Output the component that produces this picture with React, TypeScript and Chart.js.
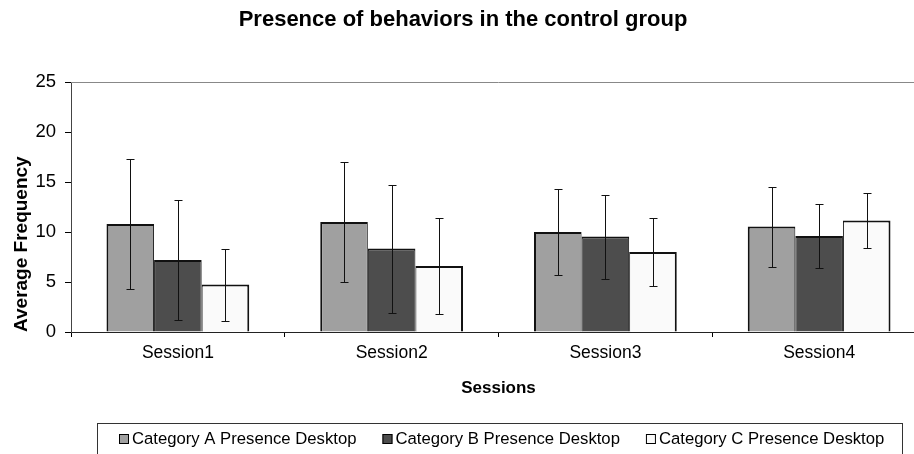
import React, { useEffect, useRef } from "react";
import { Chart, registerables } from "chart.js";

Chart.register(...registerables);

const chartTitle = "Presence of behaviors in the control group";
const xTitle = "Sessions";
const yTitle = "Average Frequency";
const sessions = ["Session1", "Session2", "Session3", "Session4"];
const seriesLabels = [
  "Category A Presence Desktop",
  "Category B Presence Desktop",
  "Category C Presence Desktop",
];
const catA = [10.8, 11.0, 10.0, 10.55];
const catB = [7.2, 8.35, 9.55, 9.6];
const catC = [4.75, 6.6, 8.0, 11.15];
const errA = [6.5, 6.0, 4.3, 4.0];
const errB = [6.0, 6.4, 4.2, 3.2];
const errC = [3.6, 4.8, 3.4, 2.8];
const yMin = 0;
const yMax = 25;
const yStep = 5;

const FONT = "'Liberation Sans', Arial, Helvetica, sans-serif";
const colors = ["#a0a0a0", "#4d4d4d", "#fafafa"];

const errorBarsPlugin = {
  id: "errorBars",
  afterDatasetsDraw(chart: any) {
    const { ctx } = chart;
    const y = chart.scales.y;
    chart.data.datasets.forEach((ds: any, i: number) => {
      const meta = chart.getDatasetMeta(i);
      meta.data.forEach((bar: any, j: number) => {
        const v = ds.data[j];
        const e = ds.errors[j];
        const x = Math.round(bar.x) + 0.5;
        const yt = Math.round(y.getPixelForValue(v + e)) + 0.5;
        const yb = Math.round(y.getPixelForValue(v - e)) + 0.5;
        ctx.save();
        ctx.strokeStyle = "#111";
        ctx.lineWidth = 1;
        ctx.beginPath();
        ctx.moveTo(x, yt);
        ctx.lineTo(x, yb);
        ctx.moveTo(x - 4, yt);
        ctx.lineTo(x + 4, yt);
        ctx.moveTo(x - 4, yb);
        ctx.lineTo(x + 4, yb);
        ctx.stroke();
        ctx.restore();
      });
    });
  },
};

const framePlugin = {
  id: "frame",
  beforeDatasetsDraw(chart: any) {
    const { ctx, chartArea } = chart;
    ctx.save();
    ctx.strokeStyle = "#888";
    ctx.lineWidth = 1;
    ctx.beginPath();
    const t = Math.round(chartArea.top) + 0.5;
    ctx.moveTo(chartArea.left, t);
    ctx.lineTo(chartArea.right, t);
    ctx.lineTo(chartArea.right, chartArea.bottom);
    ctx.stroke();
    ctx.restore();
  },
};

const boxLegendPlugin = {
  id: "boxLegend",
  afterDraw(chart: any) {
    const { ctx, chartArea } = chart;
    const center = (chartArea.left + chartArea.right) / 2 + 1;
    const boxW = 805;
    const boxTop = chart.height - 31;
    ctx.save();
    ctx.strokeStyle = "#333";
    ctx.lineWidth = 1;
    ctx.strokeRect(Math.round(center - boxW / 2) + 0.5, boxTop + 0.5, boxW, 60);
    ctx.font = `16.7px ${FONT}`;
    ctx.textBaseline = "middle";
    ctx.textAlign = "left";
    const sq = 10;
    const gapSq = 3;
    const gapItem = 26;
    const items = chart.data.datasets.map((ds: any) => ({
      label: ds.label,
      color: ds.backgroundColor,
      w: ctx.measureText(ds.label).width,
    }));
    const total =
      items.reduce((s: number, it: any) => s + sq + gapSq + it.w, 0) + gapItem * (items.length - 1);
    let x = Math.round(center + 2 - total / 2);
    const cy = boxTop + 16;
    items.forEach((it: any) => {
      ctx.fillStyle = it.color;
      ctx.fillRect(x, cy - 5, sq, sq);
      ctx.strokeStyle = "#000";
      ctx.strokeRect(x + 0.5, cy - 5 + 0.5, sq - 1, sq - 1);
      ctx.fillStyle = "#000";
      ctx.fillText(it.label, x + sq + gapSq, cy + 0.5);
      x += sq + gapSq + it.w + gapItem;
    });
    ctx.restore();
  },
};

export default function App() {
  const ref = useRef<HTMLCanvasElement | null>(null);

  useEffect(() => {
    if (!ref.current) return;
    const seriesData = [catA, catB, catC];
    const seriesErr = [errA, errB, errC];
    const borders = [
      { top: 2, left: 2, right: 1, bottom: 0 },
      { top: 2, left: 1, right: 1, bottom: 0 },
      { top: 2, left: 1, right: 2, bottom: 0 },
    ];
    const chart = new Chart(ref.current, {
      type: "bar",
      data: {
        labels: sessions,
        datasets: seriesLabels.map((label, i) => ({
          label,
          data: seriesData[i],
          errors: seriesErr[i],
          backgroundColor: colors[i],
          borderColor: "#111",
          borderWidth: borders[i],
          categoryPercentage: 0.668,
          barPercentage: 1,
        })) as any,
      },
      options: {
        animation: false,
        responsive: false,
        devicePixelRatio: 1,
        layout: { padding: { left: 0, right: 14, top: 0, bottom: 0 } },
        plugins: {
          legend: { display: false },
          tooltip: { enabled: false },
          title: {
            display: true,
            text: chartTitle,
            color: "#000",
            font: { family: FONT, size: 22, weight: "bold" },
            padding: { top: 7, bottom: 48.6 },
          },
        },
        scales: {
          x: {
            offset: true,
            grid: {
              offset: true,
              drawOnChartArea: false,
              drawTicks: true,
              tickLength: 5,
              color: "#000",
            },
            border: { display: true, color: "#222", width: 1 },
            ticks: { color: "#000", font: { family: FONT, size: 17.5 }, padding: 5.5 },
            title: {
              display: true,
              text: xTitle,
              color: "#000",
              font: { family: FONT, size: 17, weight: "bold" },
              padding: { top: 0, bottom: 55.8 },
            },
            afterFit: (s: any) => {
              s.height = 122;
            },
          },
          y: {
            min: yMin,
            max: yMax,
            ticks: {
              stepSize: yStep,
              color: "#000",
              font: { family: FONT, size: 18.5 },
              padding: 9,
            },
            grid: {
              drawOnChartArea: false,
              drawTicks: true,
              tickLength: 6,
              color: "#000",
            },
            border: { display: true, color: "#444", width: 1 },
            title: {
              display: true,
              text: yTitle,
              align: "start",
              color: "#000",
              font: { family: FONT, size: 19, weight: "bold" },
              padding: { top: 10, bottom: 0 },
            },
            afterFit: (s: any) => {
              s.width = 71;
            },
          },
        },
      } as any,
      plugins: [framePlugin, errorBarsPlugin, boxLegendPlugin],
    });
    return () => chart.destroy();
  }, []);

  return (
    <div
      style={{
        position: "absolute",
        left: 0,
        top: 0,
        width: 914,
        height: 454,
        overflow: "hidden",
        background: "#fff",
      }}
    >
      <canvas ref={ref} width={940} height={454} style={{ display: "block" }} />
    </div>
  );
}
